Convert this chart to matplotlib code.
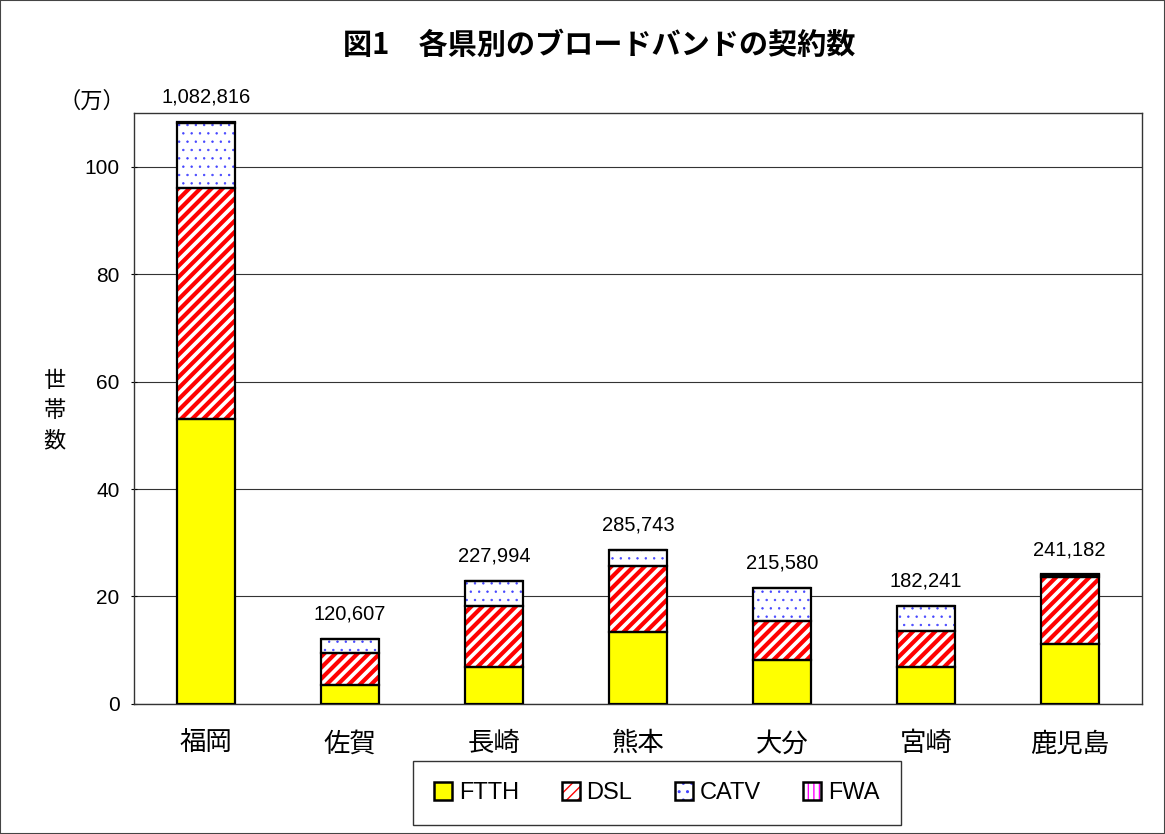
import numpy as np
import matplotlib
matplotlib.use("Agg")
import matplotlib.pyplot as plt
import matplotlib.patches as mpatches

plt.rcParams['font.family'] = ['Noto Sans CJK JP', 'DejaVu Sans']
latin = ['Liberation Sans', 'Noto Sans CJK JP']

# data (単位: 万世帯)
prefs = ['福岡', '佐賀', '長崎', '熊本', '大分', '宮崎', '鹿児島']
ftth = [53.1, 3.6, 6.95, 13.3, 8.1, 6.8, 11.1]
dsl = [43.0, 5.8, 11.25, 12.4, 7.4, 6.7, 12.6]
catv = [12.1, 2.6, 4.6, 2.9, 6.0, 4.7, 0.3]
fwa = [0.08, 0.06, 0.05, 0.06, 0.06, 0.04, 0.1]
totals = ['1,082,816', '120,607', '227,994', '285,743', '215,580', '182,241', '241,182']
series = ['FTTH', 'DSL', 'CATV', 'FWA']

x = np.arange(len(prefs))
w = 0.4

fig = plt.figure(figsize=(11.65, 8.34), dpi=100)
ax = fig.add_axes([0.115, 0.156, 0.865, 0.7085])

# fill + hatch, then black outline on top
styles = [
    dict(color='#ffff00', hatch=None, hc=None, hlw=1.0),
    dict(color='white', hatch='///', hc='#ff0000', hlw=3.0),
    dict(color='white', hatch='..', hc='#4444ff', hlw=0.5),
    dict(color='white', hatch='|||', hc='#ff00ff', hlw=1.5),
]
bottom = np.zeros(len(prefs))
for vals, st in zip([ftth, dsl, catv, fwa], styles):
    vals = np.array(vals)
    with plt.rc_context({'hatch.linewidth': st['hlw']}):
        if st['hatch']:
            ax.bar(x, vals, w, bottom=bottom, color=st['color'], hatch=st['hatch'],
                   edgecolor=st['hc'], linewidth=0, zorder=3)
        else:
            ax.bar(x, vals, w, bottom=bottom, color=st['color'], linewidth=0, zorder=3)
    ax.bar(x, vals, w, bottom=bottom, fill=False, edgecolor='black', linewidth=1.6, zorder=4)
    bottom = bottom + vals

for xi, top, lab in zip(x, bottom, totals):
    ax.annotate(lab, (xi, top), xytext=(0, 11), textcoords='offset points',
                ha='center', va='bottom', fontsize=14.5, family=latin,
                bbox=dict(facecolor='white', edgecolor='none', pad=3), zorder=5)

ax.set_xlim(-0.5, 6.5)
ax.set_ylim(0, 110)
ax.set_yticks([0, 20, 40, 60, 80, 100])
ax.yaxis.grid(True, color='#333333', linewidth=0.8, zorder=0)
ax.set_axisbelow(True)
ax.set_xticks(x)
ax.set_xticklabels(prefs, fontsize=19)
ax.tick_params(axis='x', length=0, pad=19)
ax.tick_params(axis='y', labelsize=15, length=5, direction='inout', pad=8)
for t in ax.get_yticklabels():
    t.set_family(latin)
for s in ax.spines.values():
    s.set_color('#333333')
    s.set_linewidth(1.0)

fig.text(0.514, 0.946, '図1　各県別のブロードバンドの契約数', ha='center', va='center',
         fontsize=21, fontweight='bold')
fig.text(0.047, 0.508, '世\n帯\n数', ha='center', va='center', fontsize=16, linespacing=1.4)
fig.text(0.079, 0.879, '（万）', ha='center', va='center', fontsize=16)

handles = []
for name, st in zip(series, styles):
    with plt.rc_context({'hatch.linewidth': min(st['hlw'], 2.0)}):
        inner = mpatches.Patch(facecolor=st['color'], hatch=st['hatch'],
                               edgecolor=st['hc'] if st['hc'] else st['color'], linewidth=0)
    outer = mpatches.Patch(fill=False, edgecolor='black', linewidth=1.8)
    handles.append((inner, outer))
leg = fig.legend(handles=handles, labels=series, loc='center', bbox_to_anchor=(0.564, 0.049),
                 ncol=4, prop={'family': latin, 'size': 17}, frameon=True, fancybox=False,
                 edgecolor='black', handlelength=0.75, handleheight=0.75, handletextpad=0.3,
                 columnspacing=1.8, borderpad=0.9)
leg.get_frame().set_linewidth(1.0)

fig.patches.append(mpatches.Rectangle((0, 0), 1, 1, transform=fig.transFigure,
                                      fill=False, edgecolor='#444444', linewidth=1.5))

fig.savefig('out.png', dpi=100)
